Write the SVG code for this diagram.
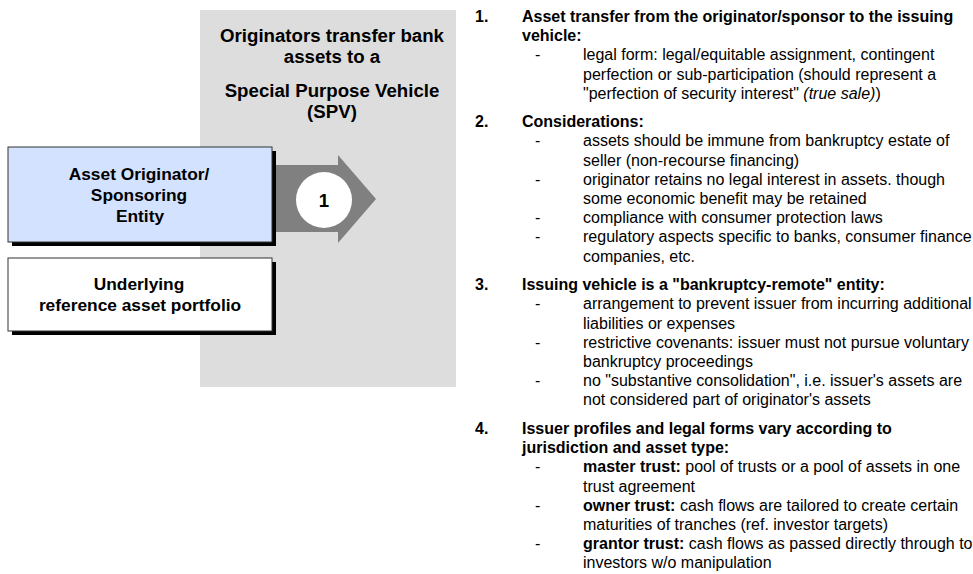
<svg xmlns="http://www.w3.org/2000/svg" width="973" height="574" viewBox="0 0 973 574">
<style>
  text { font-family: "Liberation Sans", Arial, sans-serif; fill: #000; }
  .title { font-size: 18.67px; font-weight: bold; text-anchor: middle; }
  .box { font-size: 17.33px; font-weight: bold; text-anchor: middle; }
  .num { font-size: 18.67px; font-weight: bold; text-anchor: middle; }
  .list { font-size: 16px; }
  .b { font-weight: bold; }
  .i { font-style: italic; }
  .frame { stroke: #333; stroke-width: 1; }
  .shadow { fill: #000; }
</style>
<rect id="panel" x="200" y="10" width="256" height="377" fill="#DDDDDD"/>
<g id="panel-title">
  <text class="title" x="332" y="42">Originators transfer bank</text>
  <text class="title" x="332" y="63">assets to a</text>
  <text class="title" x="332" y="97">Special Purpose Vehicle</text>
  <text class="title" x="332" y="118">(SPV)</text>
</g>
<g id="connectors">
  <polygon id="arrow1" points="265,165 338,165 338,155 376,199 338,243 338,232 265,232" fill="#808080"/>
</g>
<g id="step1">
  <circle cx="324" cy="200" r="28" fill="#FFFFFF"/>
  <text class="num" x="324" y="207">1</text>
</g>
<g id="originator">
  <rect class="shadow" x="12" y="151" width="264" height="95"/>
  <rect class="frame" x="8" y="147" width="264" height="95" fill="#D3E2FF"/>
  <text class="box" x="139" y="180">Asset Originator/</text>
  <text class="box" x="139" y="201">Sponsoring</text>
  <text class="box" x="140" y="222">Entity</text>
</g>
<g id="portfolio">
  <rect class="shadow" x="12" y="262" width="264" height="73"/>
  <rect class="frame" x="8" y="258" width="264" height="73" fill="#FFFFFF"/>
  <text class="box" x="139" y="290">Underlying</text>
  <text class="box" x="140" y="311">reference asset portfolio</text>
</g>
<g id="notes" class="list">
  <text class="b" x="475" y="22">1.</text>
  <text class="b" x="522" y="22">Asset transfer from the originator/sponsor to the issuing</text>
  <text class="b" x="522" y="41.2">vehicle:</text>
  <text x="535" y="60.4">-</text>
  <text x="583" y="60.4">legal form: legal/equitable assignment, contingent</text>
  <text x="583" y="79.6">perfection or sub-participation (should represent a</text>
  <text x="583" y="98.8">"perfection of security interest" <tspan class="i">(true sale)</tspan>)</text>

  <text class="b" x="475" y="127.2">2.</text>
  <text class="b" x="522" y="127.2">Considerations:</text>
  <text x="535" y="146.4">-</text>
  <text x="583" y="146.4">assets should be immune from bankruptcy estate of</text>
  <text x="583" y="165.6">seller (non-recourse financing)</text>
  <text x="535" y="184.8">-</text>
  <text x="583" y="184.8">originator retains no legal interest in assets. though</text>
  <text x="583" y="204">some economic benefit may be retained</text>
  <text x="535" y="223.2">-</text>
  <text x="583" y="223.2">compliance with consumer protection laws</text>
  <text x="535" y="242.4">-</text>
  <text x="583" y="242.4">regulatory aspects specific to banks, consumer finance</text>
  <text x="583" y="261.6">companies, etc.</text>

  <text class="b" x="475" y="290.2">3.</text>
  <text class="b" x="522" y="290.2">Issuing vehicle is a "bankruptcy-remote" entity:</text>
  <text x="535" y="309.4">-</text>
  <text x="583" y="309.4">arrangement to prevent issuer from incurring additional</text>
  <text x="583" y="328.6">liabilities or expenses</text>
  <text x="535" y="347.8">-</text>
  <text x="583" y="347.8">restrictive covenants: issuer must not pursue voluntary</text>
  <text x="583" y="367">bankruptcy proceedings</text>
  <text x="535" y="386.2">-</text>
  <text x="583" y="386.2">no "substantive consolidation", i.e. issuer's assets are</text>
  <text x="583" y="405.4">not considered part of originator's assets</text>

  <text class="b" x="475" y="434">4.</text>
  <text class="b" x="522" y="434">Issuer profiles and legal forms vary according to</text>
  <text class="b" x="522" y="453.2">jurisdiction and asset type:</text>
  <text x="535" y="472.4">-</text>
  <text x="583" y="472.4"><tspan class="b">master trust:</tspan> pool of trusts or a pool of assets in one</text>
  <text x="583" y="491.6">trust agreement</text>
  <text x="535" y="510.8">-</text>
  <text x="583" y="510.8"><tspan class="b">owner trust:</tspan> cash flows are tailored to create certain</text>
  <text x="583" y="530">maturities of tranches (ref. investor targets)</text>
  <text x="535" y="549.2">-</text>
  <text x="583" y="549.2"><tspan class="b">grantor trust:</tspan> cash flows as passed directly through to</text>
  <text x="583" y="568.4">investors w/o manipulation</text>
</g>
</svg>
